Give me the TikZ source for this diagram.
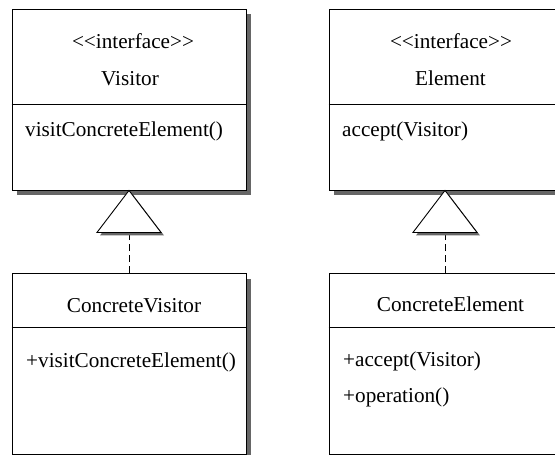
\documentclass[tikz,border=0pt]{standalone}
\usepackage{fontspec}
\setmainfont{Liberation Serif}
\usetikzlibrary{shadows,calc}
\begin{document}
\begin{tikzpicture}[x=1pt,y=-1pt,
  umlbox/.style={draw, fill=white, line width=0.9pt, minimum width=234pt, minimum height=181pt, inner sep=0pt,
    drop shadow={shadow xshift=5pt, shadow yshift=-5pt, fill=black!60, opacity=1}},
  divider/.style={line width=0.9pt},
  txt/.style={inner sep=0pt, anchor=base, font=\fontsize{21.2}{24}\selectfont},
  ltxt/.style={txt, anchor=base west},
  realize/.style={line width=0.9pt, dash pattern=on 7pt off 4pt},
  tri/.style={draw, fill=white, line width=0.9pt,
    preaction={fill=black!60, transform canvas={shift={(3pt,-3pt)}}}}
]
\useasboundingbox (0,0) rectangle (555,455);
\clip (0,0) rectangle (555,455);

% boxes
\node[umlbox] (visitor)  at (129,99.5) {};
\node[umlbox] (element)  at (446,99.5) {};
\node[umlbox] (cvisitor) at (129,364) {};
\node[umlbox] (celement) at (446,364) {};

% dividers
\draw[divider] ($(visitor.west)+(0,4.5)$) -- ($(visitor.east)+(0,4.5)$);
\draw[divider] ($(element.west)+(0,4.5)$) -- ($(element.east)+(0,4.5)$);
\draw[divider] ($(cvisitor.west)+(0,-37)$) -- ($(cvisitor.east)+(0,-37)$);
\draw[divider] ($(celement.west)+(0,-37)$) -- ($(celement.east)+(0,-37)$);

% texts
\node[txt] (v1) at (133,48) {{<}{<}interface{>}{>}};
\node[txt] (v2) at (130,85) {Visitor};
\node[ltxt] (v3) at (25,136) {visitConcreteElement()};
\node[txt] (e1) at (451,48) {{<}{<}interface{>}{>}};
\node[txt] (e2) at (450.5,85) {Element};
\node[ltxt] (e3) at (342,136) {accept(Visitor)};
\node[txt] (cv1) at (134,312) {ConcreteVisitor};
\node[ltxt] (cv2) at (26,367) {+visitConcreteElement()};
\node[txt] (ce1) at (450.5,311) {ConcreteElement};
\node[ltxt] (ce2) at (343,366) {+accept(Visitor)};
\node[ltxt] (ce3) at (343,402) {+operation()};

% realization connectors
\coordinate (t1) at ($(visitor.south)+(0,42)$);
\coordinate (t2) at ($(element.south)+(-1,42)$);
\draw[realize] (cvisitor.north) -- (t1);
\draw[realize] (celement.north -| t2) -- (t2);
\draw[tri] (visitor.south) -- ($(t1)+(32,0)$) -- ($(t1)+(-32,0)$) -- cycle;
\draw[tri] ($(element.south)+(-1,0)$) -- ($(t2)+(32,0)$) -- ($(t2)+(-32,0)$) -- cycle;
\end{tikzpicture}
\end{document}
